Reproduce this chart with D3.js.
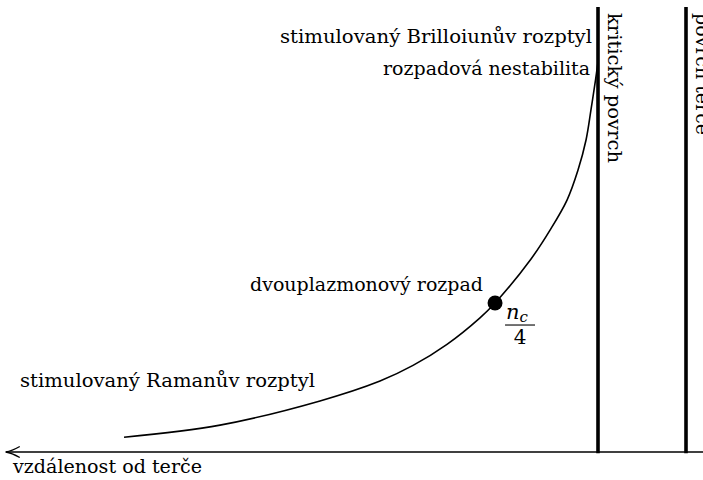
<!DOCTYPE html>
<html>
<head>
<meta charset="utf-8">
<script src="https://cdn.jsdelivr.net/npm/d3@7"></script>
<style>
  body { margin: 0; background: #fff; }
</style>
</head>
<body>
<div id="chart"></div>
<script>
// distance from target (critical surface = 1), electron density (relative, critical = 1)
const distance = [6.386, 5.295, 4.159, 3.477, 3.102, 2.716, 2.341, 2.170, 1.761, 1.545, 1.352, 1.227, 1.136, 1.080, 1.028, 1.0]
const density  = [0.038, 0.069, 0.131, 0.182, 0.222, 0.276, 0.344, 0.382, 0.495, 0.569, 0.646, 0.723, 0.800, 0.877, 0.954, 1.0]

const surfaceNames = ['kritický povrch', 'povrch terče']
const surfaceDist = [1, 0]

const quarterPoint = { d: 2.170, n: 0.382 }
const axisLabel = 'vzdálenost od terče'
const axisEnd = 7.73

const W = 703, H = 480
const FS = 19
const SERIF = "'DejaVu Serif', 'Liberation Serif', 'Noto Serif', 'Times New Roman', serif"
const svg = d3.select('#chart').append('svg')
            .attr('width', W)
            .attr('height', H)
            .attr('font-family', SERIF)

const x = d3.scaleLinear().domain([0, 1]).range([686, 598])
const y = d3.scaleLinear().domain([0, 1]).range([452, 62])

// text stretched to the width it has in the picture
function label(px, py, str, width, anchor) {
  return svg.append('text')
      .attr('x', px).attr('y', py)
      .attr('font-family', SERIF)
      .attr('font-size', FS)
      .attr('text-anchor', anchor || 'start')
      .attr('textLength', width)
      .attr('lengthAdjust', 'spacingAndGlyphs')
      .text(str)
}

// axis arrow pointing away from the target
svg.append('line')
    .attr('x1', x(axisEnd)).attr('x2', W)
    .attr('y1', y(0)).attr('y2', y(0))
    .attr('stroke', '#000').attr('stroke-width', 1.3)
svg.append('path')
    .attr('d', `M${x(axisEnd) + 14},${y(0) - 5.5} Q${x(axisEnd) + 6},${y(0) - 1} ${x(axisEnd)},${y(0)} Q${x(axisEnd) + 6},${y(0) + 1} ${x(axisEnd) + 14},${y(0) + 5.5}`)
    .attr('fill', 'none').attr('stroke', '#000').attr('stroke-width', 1.3)
label(13, 473, axisLabel, 189)

// surfaces
const surfaceLen = [150, 122]
surfaceDist.forEach((d, i) => {
  svg.append('line')
      .attr('x1', x(d)).attr('x2', x(d))
      .attr('y1', y(1.141)).attr('y2', y(-0.003))
      .attr('stroke', '#000').attr('stroke-width', 3.6)
  label(0, 0, surfaceNames[i], surfaceLen[i])
      .attr('transform', `translate(${x(d) + 10},13) rotate(90)`)
})

// density profile
const pts = distance.map((d, i) => [x(d), y(density[i])])
svg.append('path')
    .attr('d', d3.line().curve(d3.curveCatmullRom.alpha(0.5))(pts))
    .attr('fill', 'none').attr('stroke', '#000').attr('stroke-width', 1.6)

svg.append('circle')
    .attr('cx', x(quarterPoint.d)).attr('cy', y(quarterPoint.n))
    .attr('r', 7.5)

// n_c / 4
const fx = x(quarterPoint.d) + 10, fy = y(quarterPoint.n)
const num = svg.append('text').attr('x', fx + 1).attr('y', fy + 16)
    .attr('font-family', SERIF).attr('font-size', 21)
num.append('tspan').attr('font-style', 'italic').text('n')
num.append('tspan').attr('font-style', 'italic').attr('font-size', 15).attr('dy', 3).text('c')
svg.append('line')
    .attr('x1', fx).attr('x2', fx + 30)
    .attr('y1', fy + 22).attr('y2', fy + 22)
    .attr('stroke', '#000').attr('stroke-width', 1.1)
svg.append('text').attr('x', fx + 15).attr('y', fy + 41)
    .attr('font-family', SERIF)
    .attr('font-size', 20).attr('text-anchor', 'middle').text('4')

// instability labels
label(592, 43, 'stimulovaný Brilloiunův rozptyl', 312, 'end')
label(590, 75, 'rozpadová nestabilita', 207, 'end')
label(250, 291, 'dvouplazmonový rozpad', 233)
label(20, 387, 'stimulovaný Ramanův rozptyl', 295)
</script>
</body>
</html>
